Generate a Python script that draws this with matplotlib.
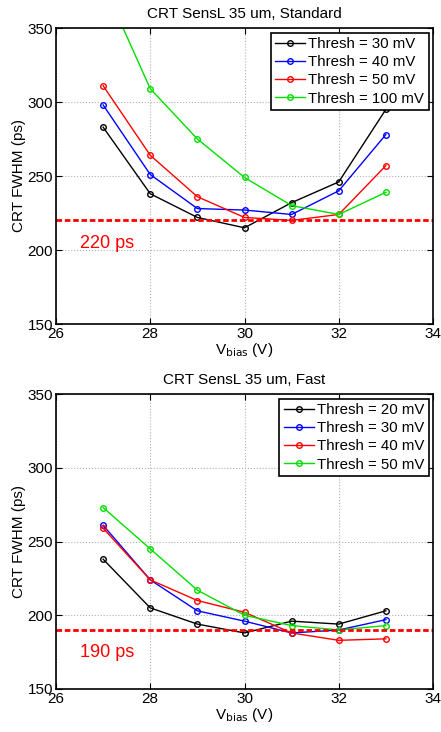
import matplotlib
matplotlib.use("Agg")
import matplotlib.pyplot as plt

vbias = [27, 28, 29, 30, 31, 32, 33]

std_labels = ["Thresh = 30 mV", "Thresh = 40 mV", "Thresh = 50 mV", "Thresh = 100 mV"]
std_30 = [283, 238, 222, 215, 232, 246, 295]
std_40 = [298, 251, 228, 227, 224, 240, 278]
std_50 = [311, 264, 236, 222, 220, 224, 257]
std_100 = [380, 309, 275, 249, 230, 224, 239]

fast_labels = ["Thresh = 20 mV", "Thresh = 30 mV", "Thresh = 40 mV", "Thresh = 50 mV"]
fast_20 = [238, 205, 194, 188, 196, 194, 203]
fast_30 = [261, 224, 203, 196, 188, 190, 197]
fast_40 = [259, 224, 210, 202, 188, 183, 184]
fast_50 = [273, 245, 217, 200, 193, 190, 193]

colors = ["black", "blue", "red", "#00e000"]

panels = [
    ("CRT SensL 35 um, Standard", [std_30, std_40, std_50, std_100], std_labels, 220, "220 ps"),
    ("CRT SensL 35 um, Fast", [fast_20, fast_30, fast_40, fast_50], fast_labels, 190, "190 ps"),
]

plt.rcParams['font.family'] = ['Liberation Sans', 'DejaVu Sans']
fig = plt.figure(figsize=(4.41, 7.32), dpi=100)
W, H = 441, 732
boxes = [(56, 28, 433, 324), (56, 394, 433, 689)]

for (title, series, labels, ref, reftxt), (x0, y0, x1, y1) in zip(panels, boxes):
    ax = fig.add_axes([x0 / W, 1 - y1 / H, (x1 - x0) / W, (y1 - y0) / H])
    for s, c, lab in zip(series, colors, labels):
        ax.plot(vbias, s, color=c, lw=1.0, marker='o', ms=4, mfc='none', mew=1.0, label=lab)
    ax.axhline(ref, color='red', ls=(0, (2, 1)), lw=2)
    ax.text(26.5, ref - 15.5, reftxt, color='red', fontsize=13, va='center', ha='left')
    ax.set_xlim(26, 34)
    ax.set_ylim(150, 350)
    ax.set_xticks([26, 28, 30, 32, 34])
    ax.set_yticks([150, 200, 250, 300, 350])
    ax.grid(True, color='#b0b0b0', ls=':', lw=0.8)
    ax.tick_params(direction='in', top=True, right=True, labelsize=11, length=4, pad=2)
    for sp in ax.spines.values():
        sp.set_linewidth(1.2)
    ax.set_title(title, fontsize=11, pad=7)
    ax.set_ylabel("CRT FWHM (ps)", fontsize=11, labelpad=1)
    ax.set_xlabel(r"V$_{\mathrm{bias}}$ (V)", fontsize=11, labelpad=0)
    leg = ax.legend(loc='upper right', fontsize=10.8, fancybox=False, framealpha=1,
                    edgecolor='black', handlelength=2.0, borderpad=0.3, labelspacing=0.28,
                    handletextpad=0.2, borderaxespad=0.3)
    leg.get_frame().set_linewidth(1.2)

fig.savefig("out.png", dpi=100)
